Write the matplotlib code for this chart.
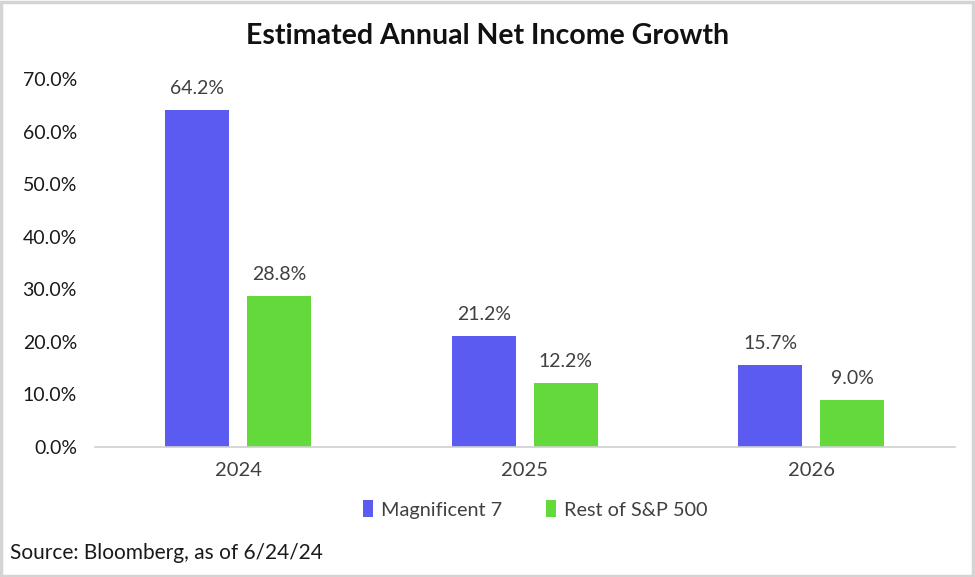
import matplotlib
matplotlib.use("Agg")
import matplotlib.pyplot as plt
from matplotlib.patches import Rectangle, Patch
import numpy as np

plt.rcParams["font.family"] = ["Lato", "DejaVu Sans"]

years = ["2024", "2025", "2026"]
mag7 = [64.2, 21.2, 15.7]
rest = [28.8, 12.2, 9.0]
series_names = ["Magnificent 7", "Rest of S&P 500"]

BLUE = "#5B5BF2"
GREEN = "#63D93B"
TXT = "#404040"

fig = plt.figure(figsize=(9.75, 5.77), dpi=100)
ax = fig.add_axes([0.0974, 0.2253, 0.8816, 0.637])

x = np.arange(len(years))
w = 0.223
off = 0.143
b1 = ax.bar(x - off, mag7, w, color=BLUE)
b2 = ax.bar(x + off, rest, w, color=GREEN)

for bars, vals in ((b1, mag7), (b2, rest)):
    for b, v in zip(bars, vals):
        ax.annotate(f"{v:.1f}%", (b.get_x() + b.get_width() / 2, v),
                    xytext=(0, 9), textcoords="offset points",
                    ha="center", va="bottom", fontsize=14, color=TXT)

ax.set_xlim(-0.5, 2.5)
ax.set_ylim(0, 70)
ax.set_yticks(np.arange(0, 71, 10))
ax.set_yticklabels([f"{t:.1f}%" for t in np.arange(0, 71, 10)],
                   fontsize=14, color="#1a1a1a")
ax.set_xticks(x)
ax.set_xticklabels(years, fontsize=14.5, color=TXT)
ax.tick_params(axis="y", length=0, pad=13)
ax.tick_params(axis="x", length=0, pad=11)
for s in ("top", "right", "left"):
    ax.spines[s].set_visible(False)
ax.spines["bottom"].set_color("#d0d0d0")
ax.spines["bottom"].set_linewidth(1.2)

fig.text(0.5, 0.938, "Estimated Annual Net Income Growth", ha="center",
         va="center", fontsize=20.5, fontweight="bold", color="#111111")

handles = [Patch(facecolor=BLUE, label=series_names[0]),
           Patch(facecolor=GREEN, label=series_names[1])]
fig.legend(handles=handles, loc="center", bbox_to_anchor=(0.549, 0.117),
           ncol=2, frameon=False, fontsize=14.3, handlelength=0.5,
           handleheight=0.9, handletextpad=0.4, columnspacing=2.2,
           labelcolor=TXT)

fig.text(0.01, 0.042, "Source: Bloomberg, as of 6/24/24", ha="left",
         va="center", fontsize=15, color="#1a1a1a")

fig.patches.append(Rectangle((0.001, 0.002), 0.997, 0.995, transform=fig.transFigure,
                             fill=False, edgecolor="#d4d4d4", linewidth=2.5))

fig.savefig("out.png", dpi=100, facecolor="white")
